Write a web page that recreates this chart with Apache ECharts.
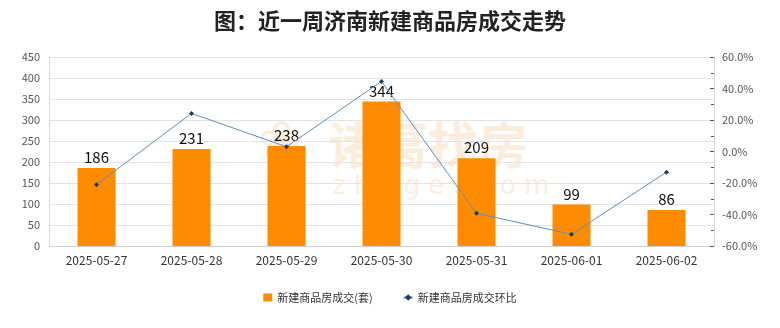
<!DOCTYPE html>
<html><head><meta charset="utf-8">
<script src="https://cdn.jsdelivr.net/npm/echarts@6/dist/echarts.min.js"></script>
<style>html,body{margin:0;padding:0;background:#fff}#c{width:780px;height:328px}</style>
</head><body><div id="c"></div>
<script>
const categories = ['2025-05-27','2025-05-28','2025-05-29','2025-05-30','2025-05-31','2025-06-01','2025-06-02'];
const deals = [186, 231, 238, 344, 209, 99, 86];
const ratio = [-21.1, 24.2, 3.0, 44.5, -39.2, -52.6, -13.1];
const titleText = '图：近一周济南新建商品房成交走势';
const barName = '新建商品房成交(套)';
const lineName = '新建商品房成交环比';
const font = '"Noto Sans CJK SC","Noto Sans",sans-serif';

const chart = echarts.init(document.getElementById('c'));
chart.setOption({
  animation: false,
  backgroundColor: '#fff',
  title: { text: titleText, left: 'center', top: 5,
    textStyle: { fontFamily: font, fontSize: 22, fontWeight: 'bold', color: '#222' } },
  graphic: [
    { type: 'text', left: 258, top: 118, silent: true, z: -1,
      style: { text: '❀', font: '56px "DejaVu Sans"', fill: 'rgba(245,185,130,0.28)' } },
    { type: 'text', left: 328, top: 120, silent: true, z: -1,
      style: { text: '诸葛找房', font: 'bold 50px "Noto Sans CJK SC"', fill: 'rgba(245,185,130,0.28)' } },
    { type: 'text', left: 332, top: 174, silent: true, z: -1,
      style: { text: 'z h u g e .  c o m', font: '26px "DejaVu Sans"', fill: 'rgba(245,185,130,0.25)' } }
  ],
  legend: {
    bottom: 20, left: 'center', itemGap: 30, itemWidth: 9, itemHeight: 8,
    textStyle: { fontFamily: font, fontSize: 11, color: '#333' },
    data: [ { name: barName, icon: 'rect' }, { name: lineName } ]
  },
  grid: { left: 49, right: 66, top: 57, bottom: 82 },
  xAxis: {
    type: 'category', data: categories,
    axisLine: { lineStyle: { color: '#d0d0d0' } },
    axisTick: { show: false },
    axisLabel: { fontFamily: font, fontSize: 12, color: '#333', margin: 8 }
  },
  yAxis: [
    { type: 'value', min: 0, max: 450, interval: 50,
      axisLine: { show: true, lineStyle: { color: '#d8d8d8' } },
      axisTick: { show: false },
      axisLabel: { fontFamily: font, fontSize: 11, color: '#555', margin: 9 },
      splitLine: { lineStyle: { color: '#e3e3e3' } } },
    { type: 'value', min: -60, max: 60, interval: 20, position: 'right',
      axisLine: { show: true, lineStyle: { color: '#d8d8d8' } },
      axisTick: { show: true, inside: true, length: 4, lineStyle: { color: '#555' } },
      minorTick: { show: true, splitNumber: 2, length: 3, lineStyle: { color: '#555' } },
      axisLabel: { fontFamily: font, fontSize: 11, color: '#555', margin: 8,
        formatter: v => v.toFixed(1) + '%' },
      splitLine: { show: false } }
  ],
  series: [
    { name: barName, type: 'bar', data: deals, barWidth: 38,
      itemStyle: { color: '#FF8C00' },
      label: { show: true, position: 'top', distance: 3, fontFamily: font, fontSize: 15, color: '#111' } },
    { name: lineName, type: 'line', yAxisIndex: 1, data: ratio,
      symbol: 'diamond', symbolSize: 5,
      lineStyle: { color: '#5b8fc0', width: 1 },
      itemStyle: { color: '#1f3a5a' } }
  ]
});
</script></body></html>
